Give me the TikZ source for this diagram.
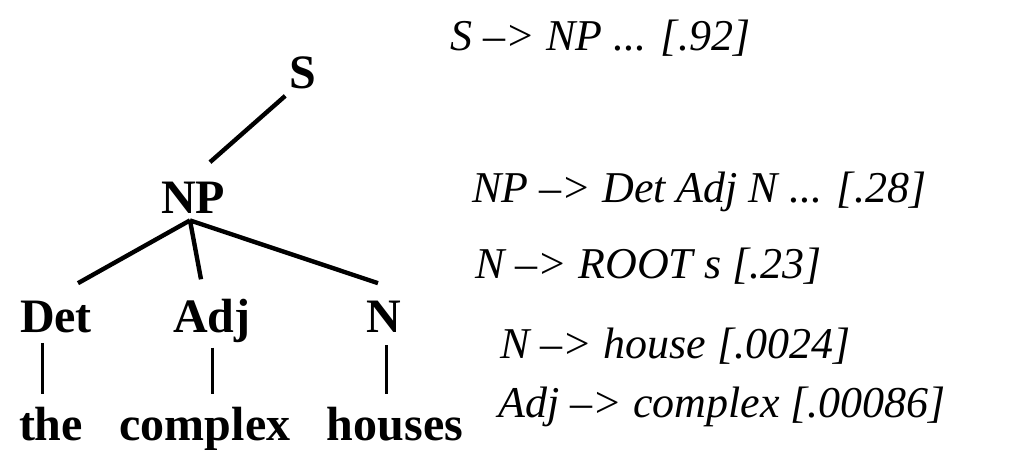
\documentclass[tikz,border=0pt]{standalone}
\usepackage{fontspec}
\setmainfont{Liberation Serif}
\tikzset{
  cat/.style={font=\fontsize{24}{28}\selectfont\bfseries, inner sep=0pt, anchor=base},
  prob/.style={font=\fontsize{22}{26}\selectfont\itshape, inner sep=0pt, anchor=base west},
  branch/.style={line width=2.2pt},
  stem/.style={line width=1.5pt}
}
\newcommand{\drawcat}[4]{
  \node[cat] (#1) at (#2/2, #3/-2) {#4};
}
\newcommand{\drawprob}[4]{
  \node[prob] (#1) at (#2/2, #3/-2) {#4};
}

\begin{document}
\begin{tikzpicture}[x=1pt, y=1pt]
  \useasboundingbox (0,0) rectangle (504.5,-225);
  % tree
  \drawcat{s}{303}{88}{S}
  \drawcat{np}{193}{213}{NP}
  \drawcat{det}{56}{332}{Det}
  \drawcat{adj}{212}{332}{Adj}
  \drawcat{n}{384}{332}{N}
  \drawcat{the}{51}{440}{the}
  \drawcat{complex}{205}{440}{complex}
  \drawcat{houses}{395}{440}{houses}
  \draw[branch] ([shift={(-2,-3.5)}]s.south west) -- ([shift={(8.5,9.5)}]np.north);
  \draw[branch] ([shift={(-1.5,-3.5)}]np.south) -- ([shift={(11,8.5)}]det.north);
  \draw[branch] ([shift={(-1.5,-3.5)}]np.south) -- ([shift={(-5.5,9.5)}]adj.north);
  \draw[branch] ([shift={(-1.5,-3.5)}]np.south) -- ([shift={(-3,8.5)}]n.north);
  \draw[stem] ([shift={(-7,-5)}]det.south) -- ([shift={(-4.5,6)}]the.north);
  \draw[stem] ([shift={(0,-2.5)}]adj.south) -- ([shift={(3.5,6)}]complex.north);
  \draw[stem] ([shift={(1,-6.5)}]n.south) -- ([shift={(-4.5,6)}]houses.north);
  % rules
  \drawprob{r1}{450}{50}{S --> NP ... [.92]}
  \drawprob{r2}{472}{202}{NP --> Det Adj N ... [.28]}
  \drawprob{r3}{475}{278}{N --> ROOT s [.23]}
  \drawprob{r4}{500}{358}{N --> house [.0024]}
  \drawprob{r5}{498}{417}{Adj --> complex [.00086]}
\end{tikzpicture}
\end{document}
